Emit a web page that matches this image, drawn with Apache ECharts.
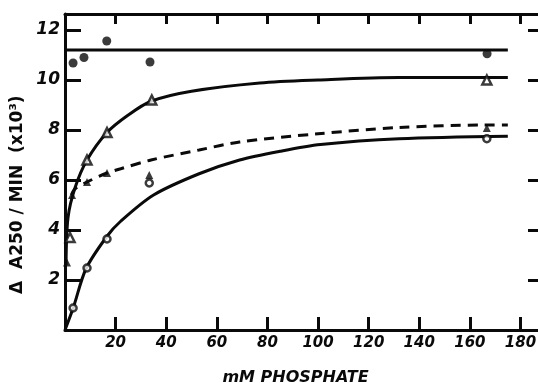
<!DOCTYPE html>
<html>
<head>
<meta charset="utf-8">
<script src="https://cdn.jsdelivr.net/npm/echarts@6/dist/echarts.min.js"></script>
<style>
  html, body { margin: 0; padding: 0; background: #fff; }
  #chart { width: 538px; height: 383px; }
</style>
</head>
<body>
<div id="chart"></div>
<script>
// mM phosphate vs rate
const xTicks = [20, 40, 60, 80, 100, 120, 140, 160, 180]
const yTicks = [2, 4, 6, 8, 10, 12]

// measured points
const filledCircles = [[3.2, 10.68], [7.5, 10.9], [16.5, 11.56], [33.6, 10.72], [166.8, 11.05]]
const openTriangles = [[2.0, 3.7], [8.7, 6.8], [16.6, 7.9], [34.3, 9.2], [166.7, 10.0]]
const filledTriangles = [[0.8, 2.7], [2.8, 5.4], [8.7, 5.92], [16.6, 6.28], [33.3, 6.2], [166.7, 8.08]]
const openCircles = [[3.2, 0.88], [8.7, 2.48], [16.6, 3.64], [33.3, 5.88], [166.7, 7.65]]

// fitted curves
const flatLine = [[0, 11.2], [175, 11.2]]
const triangleCurve = [[0.4, 2.6], [1.2, 4.5], [4, 5.7], [8.7, 6.8], [16.6, 7.9], [25, 8.6], [34, 9.15],
  [50, 9.55], [77, 9.88], [100, 10.0], [132, 10.1], [175, 10.1]]
const dashedCurve = [[2.5, 5.4], [4, 5.65], [8.7, 5.92], [16.6, 6.28], [22, 6.45], [34, 6.8], [53, 7.2],
  [69, 7.52], [100, 7.85], [132, 8.1], [166, 8.2], [175, 8.2]]
const circleCurve = [[0, 0], [3.3, 0.9], [8.3, 2.45], [16.6, 3.75], [22, 4.35], [35, 5.4], [53, 6.25],
  [69, 6.8], [85, 7.15], [101, 7.42], [132, 7.65], [175, 7.75]]

const ink = '#0a0a0a'
const labelFont = { color: ink, fontSize: 15, fontWeight: 'bold', fontStyle: 'italic', fontFamily: 'DejaVu Sans' }

const chart = echarts.init(document.getElementById('chart'))

function lineSeries(data, type) {
  return {
    type: 'line',
    data: data,
    smooth: 0.3,
    showSymbol: false,
    silent: true,
    animation: false,
    lineStyle: { color: ink, width: 3, type: type || 'solid' },
    z: 2
  }
}

function pointSeries(data, symbol, size, filled) {
  return {
    type: 'scatter',
    data: data,
    symbol: symbol,
    symbolSize: size,
    animation: false,
    itemStyle: {
      color: filled ? ink : '#fff',
      borderColor: ink,
      borderWidth: filled ? 0 : 2.5
    },
    z: 3
  }
}

// frame: every axis stays on its own edge
const frameLine = { show: true, onZero: false, lineStyle: { color: ink, width: 3 } }

chart.setOption({
  backgroundColor: '#fff',
  // the right edge of the frame runs just past the picture
  grid: { left: 65, top: 14, width: 477, height: 316, outerBoundsMode: 'none', containLabel: false },
  xAxis: [{
    type: 'value',
    min: 0,
    max: 188.5,
    interval: 20,
    axisLine: frameLine,
    axisTick: { show: true, inside: true, length: 13, lineStyle: { color: ink, width: 3 } },
    axisLabel: {
      ...labelFont,
      margin: 6,
      formatter: v => (xTicks.indexOf(v) >= 0 ? String(v) : '')
    },
    splitLine: { show: false },
    name: 'mM PHOSPHATE',
    nameLocation: 'middle',
    nameGap: 40,
    nameTextStyle: { ...labelFont, fontSize: 16, padding: [0, 16, 0, 0] }
  }, {
    type: 'value',
    position: 'top',
    min: 0,
    max: 188.5,
    interval: 20,
    axisLine: frameLine,
    axisTick: { show: true, inside: true, length: 10, lineStyle: { color: ink, width: 3 } },
    axisLabel: { show: false },
    splitLine: { show: false }
  }],
  yAxis: [{
    type: 'value',
    min: 0,
    max: 12.64,
    interval: 2,
    axisLine: frameLine,
    axisTick: { show: true, inside: true, length: 16, lineStyle: { color: ink, width: 3 } },
    axisLabel: {
      ...labelFont,
      fontSize: 17,
      margin: 5,
      formatter: v => (yTicks.indexOf(v) >= 0 ? String(v) : '')
    },
    splitLine: { show: false }
  }, {
    type: 'value',
    position: 'right',
    min: 0,
    max: 12.64,
    interval: 2,
    axisLine: frameLine,
    axisTick: { show: true, inside: true, length: 14, lineStyle: { color: ink, width: 3 } },
    axisLabel: { show: false },
    splitLine: { show: false }
  }],
  graphic: [{
    type: 'text',
    x: 9,
    y: 294,
    rotation: Math.PI / 2,
    style: {
      text: 'Δ  A250 / MIN  (x10³)',
      fill: ink,
      font: 'bold 17px "DejaVu Sans"'
    }
  }],
  series: [
    lineSeries(flatLine),
    lineSeries(triangleCurve),
    lineSeries(dashedCurve, [10, 7]),
    lineSeries(circleCurve),
    pointSeries(filledCircles, 'circle', 9, true),
    pointSeries(openTriangles, 'triangle', 9, false),
    pointSeries(filledTriangles, 'triangle', 8, true),
    pointSeries(openCircles, 'circle', 7, false)
  ]
})
</script>
</body>
</html>
